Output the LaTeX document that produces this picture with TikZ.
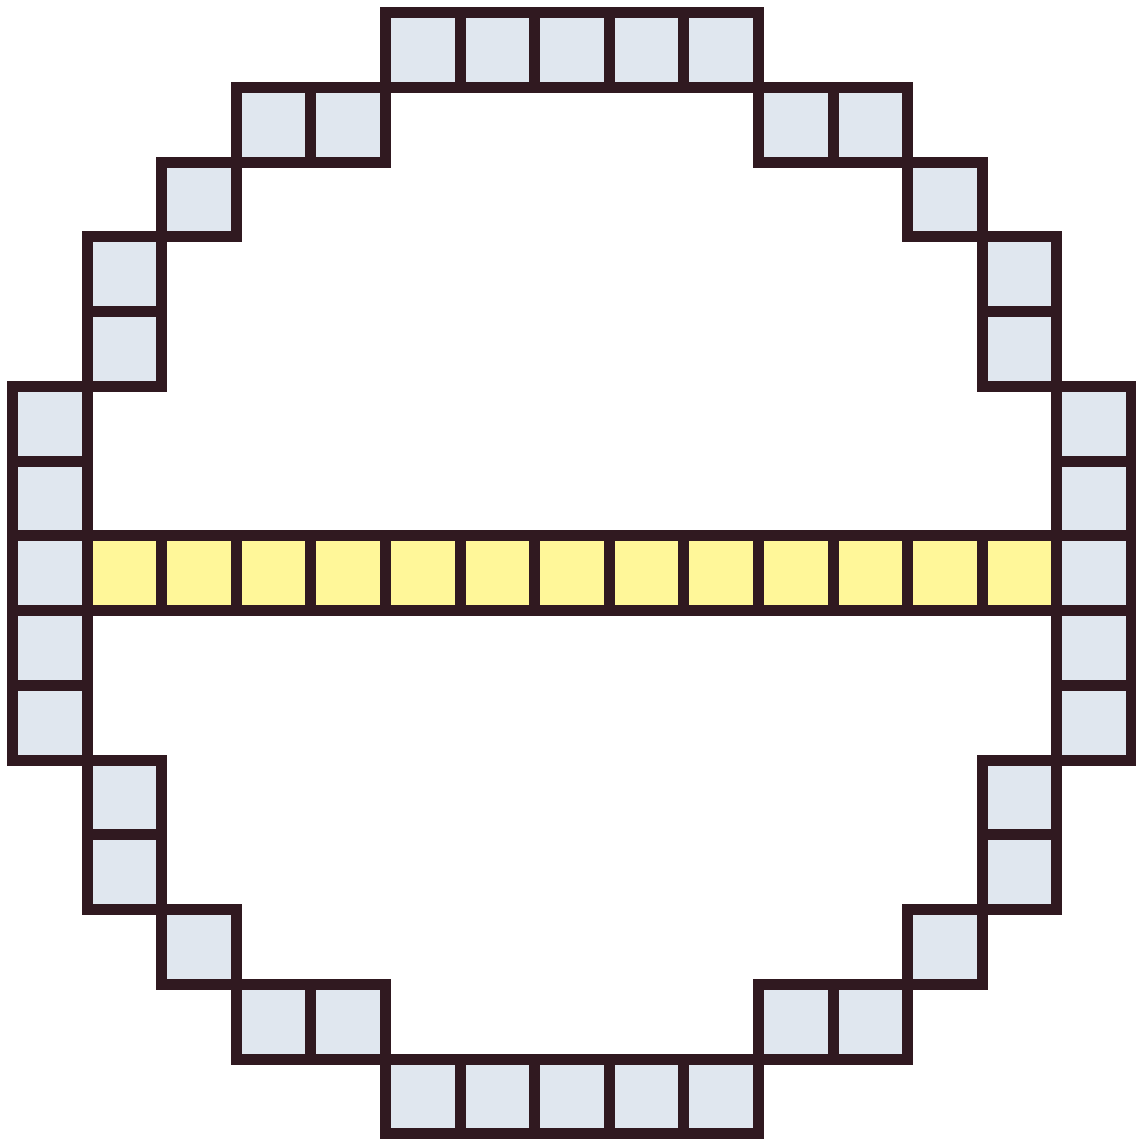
\documentclass[tikz,border=0pt]{standalone}
\definecolor{edge}{HTML}{301920}
\definecolor{cellfill}{HTML}{E0E7EF}
\definecolor{yellowfill}{HTML}{FFF799}
\begin{document}
\begin{tikzpicture}[x=0.75pt,y=-0.75pt,
  cellbox/.style={draw=edge,line width=8.25pt,fill=cellfill},
  ycell/.style={draw=edge,line width=8.25pt,fill=yellowfill}]
\useasboundingbox (0,0) rectangle (1136,1140);
\def\cx{74.6}
\def\cy{74.75}
\def\ox{12.5}
\def\oy{12.5}
\newcommand{\cellat}[3]{%
  \path[#3] ({\ox+#1*\cx},{\oy+#2*\cy}) rectangle ({\ox+(#1+1)*\cx},{\oy+(#2+1)*\cy});}
% ring
\foreach \c in {5,...,9} {\cellat{\c}{0}{cellbox}\cellat{\c}{14}{cellbox}}
\foreach \c in {3,4,10,11} {\cellat{\c}{1}{cellbox}\cellat{\c}{13}{cellbox}}
\foreach \c in {2,12} {\cellat{\c}{2}{cellbox}\cellat{\c}{12}{cellbox}}
\foreach \r in {3,4,10,11} {\cellat{1}{\r}{cellbox}\cellat{13}{\r}{cellbox}}
\foreach \r in {5,...,9} {\cellat{0}{\r}{cellbox}\cellat{14}{\r}{cellbox}}
% middle row
\foreach \c in {1,...,13} {\cellat{\c}{7}{ycell}}
\end{tikzpicture}
\end{document}
